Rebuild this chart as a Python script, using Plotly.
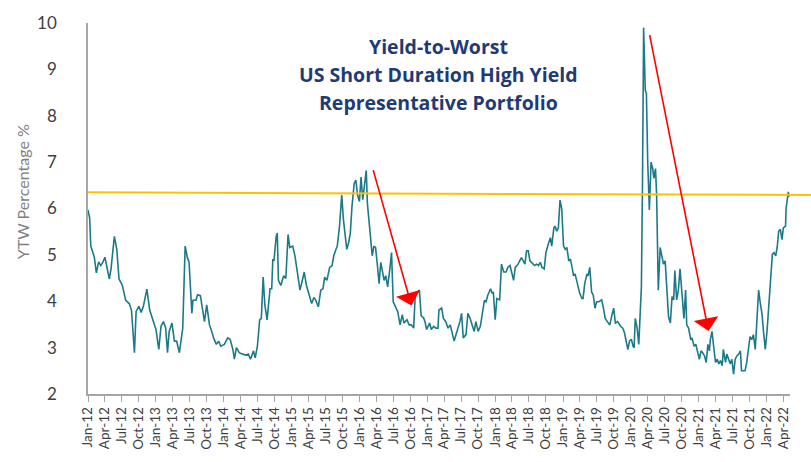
import plotly.graph_objects as go

dates = [
"2012-01-01","2012-01-10","2012-01-16","2012-02-04","2012-02-15","2012-02-27","2012-03-10","2012-03-22",
"2012-04-01","2012-04-10","2012-04-25","2012-05-04","2012-05-22","2012-06-04","2012-06-16","2012-07-04",
"2012-07-22","2012-08-10","2012-08-22","2012-09-07","2012-09-16","2012-10-01","2012-10-13","2012-10-25",
"2012-11-13","2012-11-28","2012-12-13","2013-01-01","2013-01-16","2013-01-28","2013-02-10","2013-02-22",
"2013-03-04","2013-03-13","2013-03-28","2013-04-10","2013-04-22","2013-05-07","2013-05-25","2013-06-07",
"2013-06-19","2013-06-28","2013-07-13","2013-07-19","2013-08-04","2013-08-13","2013-08-28","2013-09-10",
"2013-09-19","2013-10-01","2013-10-16","2013-10-28","2013-11-07","2013-11-22","2013-12-04","2013-12-16",
"2014-01-04","2014-01-22","2014-02-04","2014-02-19","2014-02-27","2014-03-10","2014-03-25","2014-04-13",
"2014-05-01","2014-05-13","2014-05-25","2014-06-10","2014-06-19","2014-07-01","2014-07-13","2014-07-22",
"2014-08-01","2014-08-10","2014-08-22","2014-09-07","2014-09-16","2014-09-22","2014-09-28","2014-10-10",
"2014-10-16","2014-10-22","2014-11-04","2014-11-19","2014-12-01","2014-12-13","2014-12-22","2015-01-07",
"2015-01-19","2015-02-01","2015-02-15","2015-02-26","2015-03-10","2015-03-22","2015-04-07","2015-04-19",
"2015-05-01","2015-05-10","2015-05-25","2015-06-07","2015-06-19","2015-06-28","2015-07-10","2015-07-25",
"2015-08-07","2015-08-16","2015-08-28","2015-09-04","2015-09-16","2015-09-28","2015-10-07","2015-10-16",
"2015-10-25","2015-11-04","2015-11-13","2015-11-22","2015-12-04","2015-12-13","2015-12-22","2016-01-01",
"2016-01-10","2016-01-19","2016-01-28","2016-02-07","2016-02-13","2016-02-25","2016-03-01","2016-03-10",
"2016-03-19","2016-03-28","2016-04-07","2016-04-16","2016-04-25","2016-05-04","2016-05-13","2016-05-22",
"2016-06-01","2016-06-13","2016-06-22","2016-07-01","2016-07-16","2016-07-25","2016-08-07","2016-08-19",
"2016-08-28","2016-09-13","2016-09-25","2016-10-07","2016-10-19","2016-10-28","2016-11-10","2016-11-19",
"2016-11-28","2016-12-13","2016-12-19","2016-12-28","2017-01-13","2017-01-22","2017-02-04","2017-02-16",
"2017-02-27","2017-03-04","2017-03-19","2017-03-28","2017-04-10","2017-04-22","2017-05-04","2017-05-16",
"2017-05-25","2017-06-07","2017-06-16","2017-06-25","2017-07-04","2017-07-13","2017-07-28","2017-08-07",
"2017-08-19","2017-08-28","2017-09-10","2017-09-19","2017-10-01","2017-10-13","2017-10-22","2017-11-04",
"2017-11-13","2017-11-22","2017-12-07","2017-12-16","2017-12-22","2018-01-01","2018-01-10","2018-01-25",
"2018-02-04","2018-02-16","2018-03-01","2018-03-10","2018-03-22","2018-04-01","2018-04-10","2018-04-19",
"2018-05-04","2018-05-13","2018-05-22","2018-06-01","2018-06-10","2018-06-19","2018-06-28","2018-07-07",
"2018-07-22","2018-08-01","2018-08-13","2018-08-22","2018-09-01","2018-09-10","2018-09-22","2018-10-01",
"2018-10-16","2018-10-25","2018-11-01","2018-11-13","2018-11-19","2018-11-28","2018-12-07","2018-12-16",
"2018-12-25","2019-01-04","2019-01-13","2019-01-22","2019-02-01","2019-02-10","2019-02-19","2019-02-27",
"2019-03-07","2019-03-16","2019-03-25","2019-04-01","2019-04-13","2019-04-19","2019-04-28","2019-05-10",
"2019-05-16","2019-05-25","2019-06-04","2019-06-13","2019-06-22","2019-07-01","2019-07-13","2019-07-28",
"2019-08-07","2019-08-16","2019-08-28","2019-09-10","2019-09-22","2019-10-01","2019-10-10","2019-10-22",
"2019-11-07","2019-11-19","2019-11-28","2019-12-07","2019-12-16","2019-12-25","2020-01-04","2020-01-13",
"2020-01-19","2020-01-25","2020-02-04","2020-02-13","2020-02-22","2020-02-27","2020-03-04","2020-03-10",
"2020-03-19","2020-03-25","2020-04-01","2020-04-10","2020-04-19","2020-04-28","2020-05-04","2020-05-13",
"2020-05-19","2020-05-28","2020-06-07","2020-06-16","2020-06-25","2020-07-04","2020-07-13","2020-07-22",
"2020-08-01","2020-08-10","2020-08-19","2020-08-25","2020-09-04","2020-09-13","2020-09-22","2020-10-01",
"2020-10-13","2020-10-22","2020-10-28","2020-11-07","2020-11-19","2020-11-25","2020-12-07","2020-12-16",
"2020-12-25","2021-01-04","2021-01-13","2021-01-22","2021-02-01","2021-02-10","2021-02-19","2021-02-27",
"2021-03-04","2021-03-13","2021-03-22","2021-04-01","2021-04-10","2021-04-19","2021-04-28","2021-05-07",
"2021-05-13","2021-05-25","2021-06-01","2021-06-10","2021-06-19","2021-06-28","2021-07-07","2021-07-16",
"2021-07-25","2021-08-04","2021-08-13","2021-08-19","2021-08-28","2021-09-07","2021-09-16","2021-09-25",
"2021-10-04","2021-10-13","2021-10-22","2021-11-01","2021-11-10","2021-11-19","2021-11-28","2021-12-07",
"2021-12-16","2021-12-25","2022-01-04","2022-01-13","2022-01-22","2022-02-01","2022-02-10","2022-02-19",
"2022-02-27","2022-03-07","2022-03-16","2022-03-25","2022-04-01","2022-04-13","2022-04-16","2022-04-22",
"2022-04-28","2022-05-01",
]

ytw = [
5.97,5.79,5.19,4.95,4.61,4.85,4.77,4.85,
4.95,4.74,4.48,4.70,5.40,5.12,4.48,4.34,
4.02,3.95,3.81,2.89,3.78,3.89,3.76,3.89,
4.26,3.81,3.63,3.39,2.96,3.46,3.56,3.43,
2.89,3.35,3.53,3.14,3.14,2.89,3.42,5.19,
4.94,4.85,3.74,4.02,4.02,4.14,4.12,3.78,
3.56,3.92,3.49,3.35,3.21,3.07,3.14,3.03,
3.07,3.21,3.18,2.96,2.75,3.00,2.89,2.86,
2.84,2.86,2.75,2.93,2.78,3.03,3.60,3.63,
4.52,3.92,3.60,4.27,4.27,4.91,4.87,5.40,
5.47,4.45,4.34,4.55,4.49,5.44,5.16,5.19,
4.98,4.63,4.24,4.42,4.63,4.34,4.13,3.95,
4.08,4.03,3.88,4.24,4.27,4.52,4.45,4.73,
4.77,4.98,5.12,5.19,5.62,6.29,5.76,5.40,
5.12,5.26,5.47,6.04,6.54,6.61,6.29,6.15,
6.68,6.19,6.54,6.82,6.11,5.62,5.30,4.98,
5.19,5.16,4.77,4.38,4.84,4.68,4.45,4.55,
4.31,4.70,5.05,3.99,3.85,3.78,3.49,3.71,
3.53,3.60,3.49,3.49,3.42,4.17,4.20,4.24,
3.70,3.63,3.56,3.39,3.53,3.39,3.46,3.42,
3.42,3.81,3.85,3.63,3.56,3.42,3.49,3.32,
3.14,3.32,3.42,3.56,3.74,3.21,3.28,3.74,
3.63,3.49,3.35,3.56,3.35,3.46,3.67,4.02,
3.99,4.13,4.27,4.17,4.20,3.60,4.06,4.03,
4.80,4.63,4.63,4.73,4.77,4.56,4.45,4.73,
4.80,4.87,4.94,4.87,4.80,5.09,5.09,4.87,
4.80,4.77,4.80,4.77,4.84,4.73,4.70,5.05,
5.26,5.37,5.19,5.58,5.62,5.51,5.58,6.18,
6.00,5.19,5.12,5.16,4.87,4.91,4.73,4.55,
4.59,4.45,4.27,4.17,4.06,4.06,4.38,4.59,
4.55,4.73,4.20,4.13,3.85,3.99,3.99,4.03,
3.85,3.63,3.56,3.49,3.71,3.85,3.53,3.56,
3.46,3.42,3.32,3.14,2.96,3.14,3.18,3.03,
3.00,3.63,3.42,3.07,3.85,4.31,6.57,9.90,
8.55,8.48,7.00,5.97,7.00,6.86,6.65,6.86,
6.29,4.24,5.16,5.01,4.80,4.87,4.31,3.67,
3.53,4.10,4.03,4.66,4.03,4.24,4.70,4.17,
3.63,4.24,3.49,3.42,3.17,3.21,3.03,3.07,
2.89,2.75,2.93,2.89,2.82,2.68,3.07,2.93,
3.17,3.35,3.03,2.68,2.75,2.65,2.72,2.61,
2.96,2.68,2.86,2.75,2.65,2.75,2.43,2.75,
2.82,2.86,2.93,2.50,2.50,2.50,2.68,3.03,
3.24,3.17,3.28,2.96,3.74,4.24,3.96,3.74,
3.32,2.96,3.39,3.88,4.59,5.01,5.05,4.98,
5.16,5.51,5.55,5.33,5.58,5.62,6.00,6.25,
6.36,6.25,
]

title_lines = ["Yield-to-Worst", "US Short Duration High Yield", "Representative Portfolio"]
y_title = "YTW Percentage %"
ref_level = [6.35, 6.29]  # hand-drawn horizontal reference line (left, right)
arrows = [  # (tail date, tail value, head date, head value)
    ("2016-03-13", 6.86, "2016-10-07", 3.91),
    ("2020-04-10", 9.77, "2021-02-22", 3.36),
]

fig = go.Figure()
fig.add_trace(go.Scatter(x=dates, y=ytw, mode="lines",
                         line=dict(color="#1C7A88", width=1.6), showlegend=False))

fig.update_layout(
    width=811, height=462,
    margin=dict(l=88, r=21, t=20, b=65),
    paper_bgcolor="white", plot_bgcolor="white",
    font=dict(family="Lato, Liberation Sans, sans-serif", color="#404040"),
)
fig.update_xaxes(
    type="date", range=["2012-01-01", "2022-05-07"],
    tick0="2012-01-01", dtick="M3", tickformat="%b-%y", tickangle=-90,
    ticks="outside", ticklen=6, tickcolor="#A6A6A6", tickwidth=1,
    showline=True, linecolor="#A6A6A6", linewidth=1.5, showgrid=False, zeroline=False,
    tickfont=dict(size=13.5, color="#404040"),
)
fig.update_yaxes(
    range=[2, 10], dtick=1, showline=True, linecolor="#A6A6A6", linewidth=1.5,
    showgrid=False, zeroline=False, ticks="", ticklabelstandoff=26,
    tickfont=dict(size=17, color="#404040"),
)

fig.add_shape(type="line", xref="paper", yref="y", x0=0, x1=1.03,
              y0=ref_level[0], y1=ref_level[1], line=dict(color="#FFC000", width=2))

for (tx, tv, hx, hv) in arrows:
    fig.add_annotation(x=hx, y=hv, ax=tx, ay=tv, xref="x", yref="y", axref="x", ayref="y",
                       text="", showarrow=True, arrowhead=1, arrowsize=2.6, arrowwidth=1.6,
                       arrowcolor="#FF0000", standoff=0)

for i, t in enumerate(title_lines):
    fig.add_annotation(x=(438 - 88) / 702, y=1 - (44 + 28.5 * i - 20) / 377, xref="paper", yref="paper",
                       text="<b>" + t + "</b>", showarrow=False, xanchor="center", yanchor="middle",
                       font=dict(family="Open Sans, sans-serif", size=19.5, color="#1F3A75"))

fig.add_annotation(x=(22 - 88) / 702, y=1 - (192 - 20) / 377, xref="paper", yref="paper",
                   text=y_title, textangle=-90, showarrow=False, xanchor="center", yanchor="middle",
                   font=dict(size=16, color="#7F7F7F"))

fig.write_html("out.html", config={"displayModeBar": False},
               post_script="document.body.style.margin='0';document.body.style.overflow='hidden';")
